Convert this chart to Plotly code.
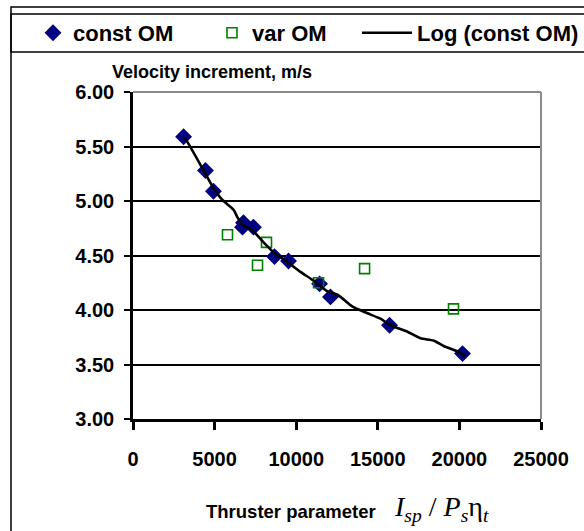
import plotly.graph_objects as go

# ---- data ----
const_x = [3100, 4440, 4930, 6770, 6710, 7380, 8670, 9530, 11430, 12100, 15720, 20190]
const_y = [5.59, 5.28, 5.09, 4.80, 4.76, 4.76, 4.49, 4.45, 4.24, 4.12, 3.86, 3.60]

var_x = [5790, 7630, 8180, 11370, 14190, 19640]
var_y = [4.69, 4.41, 4.62, 4.25, 4.38, 4.01]

log_x = [3160, 3340, 4140, 4930, 5480, 6160, 6400, 6710, 7320, 8000, 8610, 9470,
         10260, 11060, 11920, 12530, 13450, 14370, 15160, 15780, 16820, 17620,
         18410, 19030, 19880, 20370]
log_y = [5.58, 5.54, 5.33, 5.12, 5.01, 4.92, 4.85, 4.78, 4.73, 4.62, 4.53, 4.44,
         4.35, 4.27, 4.17, 4.14, 4.03, 3.97, 3.92, 3.86, 3.80, 3.74,
         3.72, 3.67, 3.62, 3.58]

x_ticks = [0, 5000, 10000, 15000, 20000, 25000]
y_ticks = [3.0, 3.5, 4.0, 4.5, 5.0, 5.5, 6.0]

# ---- layout geometry (pixels) ----
W, H = 584, 531
L, R, T, B = 133, 541, 92, 419


def px(x):
    return (x - L) / (R - L)


def py(y):
    return (B - y) / (B - T)


FONT = "Arial, Liberation Sans, sans-serif"

fig = go.Figure()
fig.add_trace(go.Scatter(
    x=const_x, y=const_y, mode="markers", name="const OM", legend="legend",
    marker=dict(symbol="diamond", size=13, color="#000080",
                line=dict(width=0)),
))
fig.add_trace(go.Scatter(
    x=var_x, y=var_y, mode="markers", name="var OM", legend="legend2",
    marker=dict(symbol="square-open", size=10, color="#008000",
                line=dict(width=1.6, color="#008000")),
))
fig.add_trace(go.Scatter(
    x=log_x, y=log_y, mode="lines", name="Log (const OM)", legend="legend3",
    line=dict(color="black", width=2.6, shape="spline", smoothing=0.6),
))

leg_common = dict(orientation="h", yanchor="middle", xanchor="left",
                  bgcolor="rgba(0,0,0,0)", borderwidth=0,
                  font=dict(family=FONT, size=22, color="black", weight="bold"))

shapes = [
    # outer chart border
    dict(type="rect", xref="paper", yref="paper",
         x0=px(11), x1=px(620), y0=py(7), y1=py(620),
         line=dict(color="black", width=1.5), layer="below"),
    # legend box
    dict(type="rect", xref="paper", yref="paper",
         x0=px(11), x1=px(620), y0=py(14), y1=py(52),
         line=dict(color="black", width=1.5), layer="below"),
    # grey plot frame top and right
    dict(type="line", xref="paper", yref="paper",
         x0=0, x1=1, y0=1, y1=1, line=dict(color="#8a8a8a", width=2)),
    dict(type="line", xref="paper", yref="paper",
         x0=1, x1=1, y0=0, y1=1, line=dict(color="#8a8a8a", width=2)),
]

annotations = [
    dict(text="Velocity increment, m/s", xref="paper", yref="paper",
         x=px(212), y=py(72), xanchor="center", yanchor="middle",
         showarrow=False,
         font=dict(family=FONT, size=18, color="black", weight="bold")),
    dict(text="Thruster parameter", xref="paper", yref="paper",
         x=px(291), y=py(511), xanchor="center", yanchor="middle",
         showarrow=False,
         font=dict(family=FONT, size=18.5, color="black", weight="bold")),
    dict(text="<i>I</i><sub><i>sp</i></sub> / <i>P</i><sub><i>s</i></sub>η<sub><i>t</i></sub>",
         xref="paper", yref="paper",
         x=px(392), y=py(508), xanchor="left", yanchor="middle",
         showarrow=False,
         font=dict(family="Times New Roman, Liberation Serif, serif", size=28, color="black")),
]

fig.update_layout(
    width=W, height=H,
    margin=dict(l=L, r=W - R, t=T, b=H - B, pad=0, autoexpand=False),
    paper_bgcolor="white", plot_bgcolor="white",
    showlegend=True,
    legend=dict(x=px(33), y=py(33), **leg_common),
    legend2=dict(x=px(212), y=py(33), **leg_common),
    legend3=dict(x=px(357), y=py(33), itemwidth=50, **leg_common),
    shapes=shapes,
    annotations=annotations,
    xaxis=dict(range=[0, 25000], tickvals=x_ticks,
               ticktext=[str(v) for v in x_ticks],
               showgrid=False, zeroline=False, automargin=False,
               showline=True, linecolor="black", linewidth=2.5,
               ticks="outside", ticklen=8, tickwidth=2.5, tickcolor="black",
               ticklabelstandoff=12,
               tickfont=dict(family=FONT, size=20, color="black", weight="bold")),
    yaxis=dict(range=[3, 6], tickvals=y_ticks, tickformat=".2f",
               showgrid=True, gridcolor="black", gridwidth=1.5,
               zeroline=False, automargin=False,
               showline=True, linecolor="black", linewidth=2.5,
               ticks="outside", ticklen=6, tickwidth=2, tickcolor="black",
               ticklabelstandoff=6,
               tickfont=dict(family=FONT, size=20, color="black", weight="bold")),
)

fig.write_html("out.html")
